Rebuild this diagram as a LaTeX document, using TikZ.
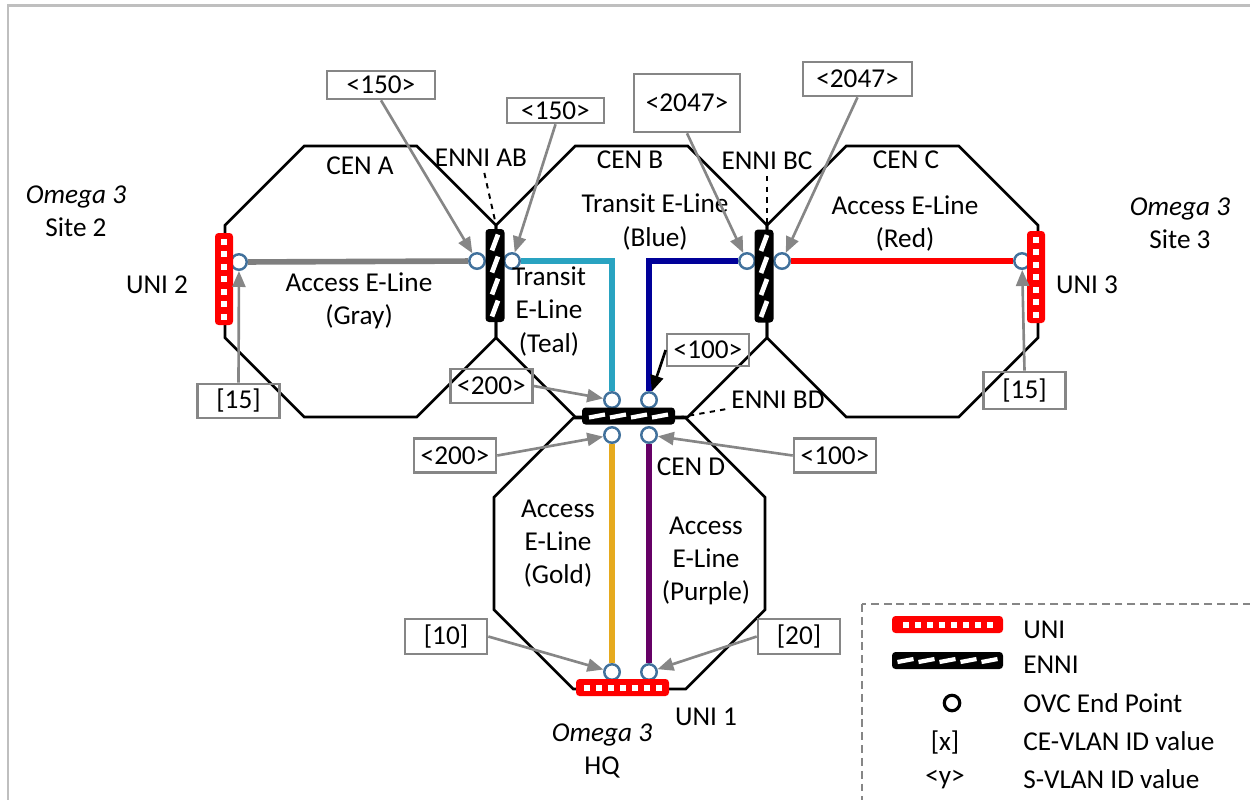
\documentclass[tikz,border=0pt]{standalone}
\usepackage{fontspec}
\setmainfont{Carlito}
\usetikzlibrary{arrows.meta, shapes.geometric}
\definecolor{framegray}{HTML}{BFBFBF}
\definecolor{taggray}{HTML}{868686}
\definecolor{epblue}{HTML}{41719C}
\definecolor{linegray}{HTML}{7F7F7F}
\definecolor{lineteal}{HTML}{29A3C1}
\definecolor{lineblue}{HTML}{000099}
\definecolor{linegold}{HTML}{E6AA1E}
\definecolor{linepurple}{HTML}{660066}

\begin{document}
\begin{tikzpicture}[
    x=0.02cm, y=-0.02cm,
    font=\fontsize{15.5}{18.8}\selectfont,
    cen/.style={draw, line width=1.5pt, regular polygon, regular polygon sides=8,
      minimum size=5.87cm, inner sep=0},
    ep/.style={circle, draw=epblue, fill=white, line width=1.4pt,
      minimum size=0.31cm, inner sep=0},
    tag/.style={draw=taggray, line width=1.5pt, inner sep=0,
      minimum width=1.64cm, minimum height=0.68cm},
    tagarrow/.style={draw=taggray, line width=1.5pt,
      -{Triangle[length=0.32cm, width=0.26cm]}},
    evc/.style={line width=3.2pt},
    ennilabel/.style={draw, dashed, line width=1.1pt},
    unibar/.style={fill=red, rounded corners=2pt, inner sep=0},
    univ/.style={unibar, minimum width=0.36cm, minimum height=1.84cm,
      path picture={\foreach \k in {-3,...,3}
        \fill[white, sharp corners] ([shift={(0,\k*12.5)}]path picture bounding box.center)
          +(-3,-3) rectangle +(3,3);}},
    unih/.style={unibar, minimum height=0.34cm,
      path picture={\foreach \k in {1,...,#1}
        \fill[white, sharp corners] ([shift={({(\k-(#1+1)/2)*12},0)}]path picture bounding box.center)
          +(-3,-3) rectangle +(3,3);}},
    ennibar/.style={fill=black, rounded corners=2pt, inner sep=0},
    enniv/.style={ennibar, minimum width=0.38cm, minimum height=1.86cm,
      path picture={\foreach \k in {-33,-11,11,33}
        \draw[white, line width=2.7pt, sharp corners]
          ([shift={(-3,\k+8)}]path picture bounding box.center) -- ++(6,-16);}},
    ennih/.style={ennibar, minimum height=0.34cm,
      path picture={\foreach \k in {1,...,#1}
        \draw[white, line width=2.4pt, sharp corners]
          ([shift={({(\k-(#1+1)/2)*21-8},1.5)}]path picture bounding box.center) -- ++(16,-3);}}
  ]
  \useasboundingbox (0,0) rectangle (1250,799);
  \clip (0,0) rectangle (1250,799);
  \draw[framegray, line width=1.7pt] (8,5) rectangle (1270,820);

  % the four networks
  \node[cen] (cenA) at (360.5,281.5) {};
  \node[cen] (cenB) at (631.5,281.5) {};
  \node[cen] (cenC) at (902.5,281.5) {};
  \node[cen] (cenD) at (629.5,553.5) {};

  \node (lblA) at (360,166) {CEN A};
  \node (lblB) at (630,160) {CEN B};
  \node (lblC) at (906,160) {CEN C};
  \node (lblD) at (691,467) {CEN D};

  \node (lblAB) at (481,158) {ENNI AB};
  \node (lblBC) at (767,161) {ENNI BC};
  \node (lblBD) at (778,400) {ENNI BD};
  \coordinate (vAB) at (496,225);
  \coordinate (vBC) at (767,225);
  \coordinate (vBD) at (681,417);
  \draw[ennilabel] (lblAB) -- (vAB);
  \draw[ennilabel] (lblBC) -- (vBC);
  \draw[ennilabel] (lblBD) -- (vBD);

  % OVC end points
  \node[ep] (ep2) at (239,262) {};
  \node[ep] (epA1) at (477,261) {};
  \node[ep] (epA2) at (512,261) {};
  \node[ep] (epC1) at (747,261) {};
  \node[ep] (epC2) at (782,261) {};
  \node[ep] (ep3) at (1022,261) {};
  \node[ep] (epD1) at (612,400) {};
  \node[ep] (epD2) at (649,400) {};
  \node[ep] (epD3) at (612,435) {};
  \node[ep] (epD4) at (649,435) {};
  \node[ep] (ep1a) at (612,672) {};
  \node[ep] (ep1b) at (649,672) {};

  \draw[evc, linegray] (ep2) -- (epA1);
  \draw[evc, lineteal] (epA2) -| (epD1);
  \draw[evc, lineblue] (epC1) -| (epD2);
  \draw[evc, red] (epC2) -- (ep3);
  \draw[evc, linegold] (epD3) -- (ep1a);
  \draw[evc, linepurple] (epD4) -- (ep1b);

  % interfaces
  \node[univ] (uni2) at (224,279) {};
  \node[univ] (uni3) at (1036,277) {};
  \node[unih=7, minimum width=1.86cm] (uni1) at (622.5,687.5) {};
  \node[enniv] (enniAB) at (495,275.5) {};
  \node[enniv] (enniBC) at (764,276) {};
  \node[ennih=4, minimum width=1.86cm] (enniBD) at (628.5,416) {};

  % service labels
  \node[align=center] (svcGray) at (359,300.5) {Access E-Line\\(Gray)};
  \node[align=center] (svcTeal) at (549,311.5) {Transit\\E-Line\\(Teal)};
  \node[align=center] (svcBlue) at (655,222) {Transit E-Line\\(Blue)};
  \node[align=center] (svcRed) at (905,223.5) {Access E-Line\\(Red)};
  \node[align=center] (svcGold) at (558,544) {Access\\E-Line\\(Gold)};
  \node[align=center] (svcPurple) at (706,561) {Access\\E-Line\\(Purple)};

  \node[align=center] (site2) at (76,211.5) {\textit{Omega 3}\\Site 2};
  \node[align=center] (site3) at (1180,223.5) {\textit{Omega 3}\\Site 3};
  \node[align=center] (hq) at (602,750.5) {\textit{Omega 3}\\HQ};
  \node (lblU2) at (157,285) {UNI 2};
  \node (lblU3) at (1087,285) {UNI 3};
  \node (lblU1) at (706,717) {UNI 1};

  % VLAN id tags
  \node[tag, minimum width=2.16cm, minimum height=0.56cm] (s150a) at (381,85) {<150>};
  \node[tag, minimum width=1.94cm, minimum height=0.5cm] (s150b) at (555.5,110.5) {<150>};
  \node[tag, minimum width=2.12cm, minimum height=1.16cm] (s2047a) at (687,103) {<2047>};
  \node[tag, minimum width=2.18cm] (s2047b) at (857.5,79) {<2047>};
  \node[tag] (s200a) at (491.5,386) {<200>};
  \node[tag, minimum height=0.64cm] (s100a) at (708,350) {<100>};
  \node[tag] (s200b) at (455,455.5) {<200>};
  \node[tag] (s100b) at (835,455.5) {<100>};
  \node[tag, minimum height=0.7cm] (ce10) at (446,636.5) {[10]};
  \node[tag, minimum height=0.7cm] (ce20) at (799,636.5) {[20]};
  \node[tag] (ce15a) at (238.5,401) {[15]};
  \node[tag, minimum height=0.74cm] (ce15b) at (1024.5,390.5) {[15]};

  \draw[tagarrow] (s150a.south) -- (epA1);
  \draw[tagarrow] (s150b.south) -- (epA2);
  \draw[tagarrow] (s2047a.south) -- (epC1);
  \draw[tagarrow] (s2047b.south) -- (epC2);
  \draw[tagarrow] (s200a.east) -- (epD1);
  \draw[tagarrow, draw=black] (s100a.west) -- (epD2);
  \draw[tagarrow] (s200b.east) -- (epD3);
  \draw[tagarrow] (s100b.west) -- (epD4);
  \draw[tagarrow] (ce10.east) -- (ep1a);
  \draw[tagarrow] (ce20.west) -- (ep1b);
  \draw[tagarrow] (ce15a.north) -- (ep2);
  \draw[tagarrow] (ce15b.north) -- (ep3);

  % legend
  \draw[taggray, line width=1.3pt, dash pattern=on 4.5pt off 2.8pt] (862,604) rectangle (1270,820);
  \node[unih=8, minimum width=2.22cm] (keyUni) at (947.5,624.5) {};
  \node[ennih=5, minimum width=2.22cm] (keyEnni) at (947.5,660.5) {};
  \node[ep, draw=black, line width=1.8pt] (keyEp) at (952,703) {};
  \node (keyCe) at (945,742) {[x]};
  \node (keySv) at (945,780) {<y>};
  \node[anchor=base west, inner sep=0] (txtUni) at (1023,638) {UNI};
  \node[anchor=base west, inner sep=0] (txtEnni) at (1023,673) {ENNI};
  \node[anchor=base west, inner sep=0] (txtEp) at (1023,712) {OVC End Point};
  \node[anchor=base west, inner sep=0] (txtCe) at (1023,750) {CE-VLAN ID value};
  \node[anchor=base west, inner sep=0] (txtSv) at (1023,788) {S-VLAN ID value};
\end{tikzpicture}
\end{document}
